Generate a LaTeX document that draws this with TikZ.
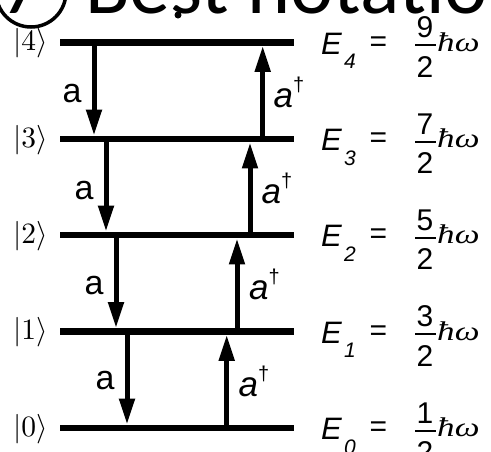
\documentclass[tikz,border=0pt]{standalone}
\usepackage{fontspec}
\usepackage{graphicx}
\setmainfont{Liberation Sans}
\newfontfamily\titlefont{Carlito}
\newfontfamily\hwfont{Liberation Serif}
\usetikzlibrary{arrows.meta}
\begin{document}
\begin{tikzpicture}[x=1pt,y=-1pt,
  lvl/.style={fill=black, draw=none, inner sep=0pt, minimum width=234pt, minimum height=6.5pt},
  arr/.style={line width=5pt, -{Triangle[length=26pt,width=15pt]}},
  ket/.style={inner sep=0pt},
  opa/.style={inner sep=0pt, anchor=base, font=\fontsize{34}{40}\selectfont},
  opad/.style={inner sep=0pt, anchor=base west, font=\itshape\fontsize{35}{40}\selectfont},
  elab/.style={inner sep=0pt, anchor=base west, font=\itshape\fontsize{31}{36}\selectfont},
  esub/.style={inner sep=0pt, anchor=base west, font=\itshape\fontsize{21}{24}\selectfont},
  num/.style={inner sep=0pt, font=\fontsize{30}{36}\selectfont},
  hw/.style={inner sep=0pt, anchor=base west, font=\hwfont\itshape\fontsize{27}{32}\selectfont},
  titletext/.style={inner sep=0pt, anchor=base west, font=\titlefont\fontsize{82}{90}\selectfont}
]
\useasboundingbox (0,0) rectangle (491,451);
\clip (0,0) rectangle (491,451);

% title (cut off at the top)
\node[circle, draw, line width=3.5pt, minimum size=70pt, inner sep=0pt] (ring) at (31,-8) {};
\node[titletext] (seven) at (1,13) {7};
\node[titletext] (title) at (85,13) {Best notatio};
\node[circle, fill=black, minimum size=7pt, inner sep=0pt] (dot) at (178,15) {};

% levels, kets and energies
\foreach \n/\y/\f in {4/42.5/9,3/139/7,2/235/5,1/331.5/3,0/428/1}{
  \node[lvl] (L\n) at (177,\y) {};
  \node[ket] (k\n) at (30.5,\y+1) {\scalebox{2.95}{$|\n\rangle$}};
  \node[elab] (E\n) at (321,\y+11.5) {E};
  \node[esub] (s\n) at (344,\y+26) {\n};
  \node[num] (eq\n) at (378.5,\y+1.5) {=};
  \node[num] (nu\n) at (425,\y-15) {\f};
  \node[num] (de\n) at (425,\y+24.5) {2};
  \draw[line width=2pt] (415,\y+2.5) -- (436,\y+2.5);
  \node[hw] (hw\n) at (437,\y+8.5) {\scalebox{1.3}[1]{ħω}};
}

% lowering arrows a
\foreach \u/\l/\x in {4/3/94,3/2/106,2/1/116,1/0/127}{
  \coordinate (d\u) at (\x,0);
  \draw[arr] (d\u |- L\u.center) -- (d\u |- L\l.north);
}
\node[opa] (a4) at (72,90.75+12) {a};
\node[opa] (a3) at (84,187+12) {a};
\node[opa] (a2) at (94,283.25+11) {a};
\node[opa] (a1) at (105,379.75+10) {a};

% raising arrows a-dagger
\foreach \l/\u/\x in {0/1/226.7,1/2/237,2/3/250,3/4/262.7}{
  \coordinate (r\l) at (\x,0);
  \draw[arr] (r\l |- L\l.center) -- (r\l |- L\u.south);
}
\node[opad] (ad3) at (273.5,90.75+16.5) {a\raisebox{16pt}{\upshape\fontsize{20}{20}\selectfont †}};
\node[opad] (ad2) at (261.5,187+16.5) {a\raisebox{16pt}{\upshape\fontsize{20}{20}\selectfont †}};
\node[opad] (ad1) at (249,283.25+16.5) {a\raisebox{16pt}{\upshape\fontsize{20}{20}\selectfont †}};
\node[opad] (ad0) at (238.5,379.75+16.5) {a\raisebox{16pt}{\upshape\fontsize{20}{20}\selectfont †}};
\end{tikzpicture}
\end{document}
